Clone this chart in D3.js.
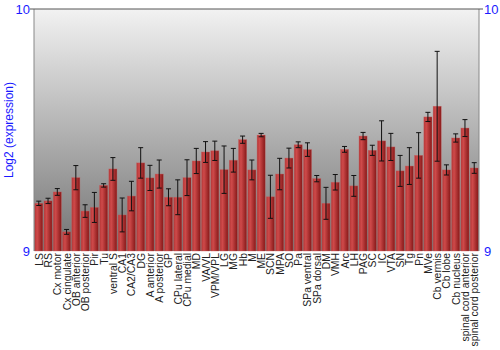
<!DOCTYPE html>
<html>
<head>
<meta charset="utf-8">
<script src="https://cdn.jsdelivr.net/npm/d3@7"></script>
<style>
  body { margin: 0; background: #fff; }
</style>
</head>
<body>
<div id="chart"></div>
<script>
const regions = ["LS", "RS", "Cx motor", "Cx cingulate", "OB anterior", "OB posterior", "Pir", "Tu",
  "ventral S", "CA1", "CA2/CA3", "DG", "A anterior", "A posterior", "GP", "CPu lateral", "CPu medial",
  "MD", "VA/VL", "VPM/VPL", "LG", "MG", "Hb", "M", "ME", "SCN", "MPA", "SO", "Pa", "SPa ventral",
  "SPa dorsal", "DM", "VMH", "Arc", "LH", "PAG", "SC", "IC", "VTA", "SN", "Tg", "Pn", "MVe",
  "Cb vermis", "Cb lobe", "Cb nucleus", "spinal cord anterior", "spinal cord posterior"]

const expression = [9.197, 9.207, 9.244, 9.079, 9.303, 9.165, 9.180, 9.271,
  9.339, 9.149, 9.227, 9.364, 9.302, 9.318, 9.222, 9.222, 9.303,
  9.372, 9.409, 9.414, 9.336, 9.375, 9.460, 9.335, 9.479, 9.224, 9.318, 9.384, 9.439, 9.419,
  9.299, 9.197, 9.284, 9.420, 9.269, 9.475, 9.416, 9.455, 9.430, 9.331, 9.351, 9.395, 9.554,
  9.598, 9.335, 9.467, 9.508, 9.343]

const errors = [0.009, 0.011, 0.014, 0.010, 0.050, 0.026, 0.062, 0.007,
  0.047, 0.070, 0.061, 0.063, 0.052, 0.058, 0.035, 0.072, 0.074,
  0.052, 0.043, 0.040, 0.098, 0.049, 0.015, 0.041, 0.007, 0.089, 0.065, 0.041, 0.012, 0.028,
  0.013, 0.066, 0.032, 0.012, 0.043, 0.015, 0.021, 0.083, 0.056, 0.064, 0.076, 0.094, 0.019,
  0.227, 0.021, 0.017, 0.035, 0.022]

const yTicks = [9, 10]

const data = regions.map((r, i) => ({ region: r, value: expression[i], err: errors[i] }))

const plotLeft = 34, plotRight = 479, plotTop = 9, plotBottom = 251
const blue = "#1a1aff"

const svg = d3.select("#chart")
  .append("svg")
    .attr("width", 500)
    .attr("height", 350)

const defs = svg.append("defs")

const bg = defs.append("linearGradient")
  .attr("id", "bg")
  .attr("x1", 0).attr("y1", 0).attr("x2", 0).attr("y2", 1)
bg.append("stop").attr("offset", "0%").attr("stop-color", "#f2f2f2")
bg.append("stop").attr("offset", "100%").attr("stop-color", "#737373")

const barGrad = defs.append("linearGradient")
  .attr("id", "bar")
  .attr("x1", 0).attr("y1", 0).attr("x2", 1).attr("y2", 0)
barGrad.append("stop").attr("offset", "0%").attr("stop-color", "#b43636")
barGrad.append("stop").attr("offset", "30%").attr("stop-color", "#cf4a4a")
barGrad.append("stop").attr("offset", "100%").attr("stop-color", "#861818")

const xScale = d3.scaleBand()
  .domain(regions)
  .range([plotLeft, plotRight])
  .paddingInner(0.13)
  .paddingOuter(0.08)

const yScale = d3.scaleLinear()
  .domain([9, 10])
  .range([plotBottom, plotTop])

// plot background
svg.append("rect")
  .attr("x", plotLeft)
  .attr("y", plotTop)
  .attr("width", plotRight - plotLeft)
  .attr("height", plotBottom - plotTop)
  .attr("fill", "url(#bg)")

// bars
const bar = svg.selectAll("g.bar")
  .data(data)
  .join("g")
    .attr("class", "bar")
    .attr("transform", d => `translate(${xScale(d.region)}, 0)`)

bar.append("rect")
  .attr("x", 0)
  .attr("y", d => yScale(d.value))
  .attr("width", xScale.bandwidth())
  .attr("height", d => plotBottom - yScale(d.value))
  .attr("fill", "url(#bar)")
  .attr("stroke", "#c85a5a")
  .attr("stroke-opacity", 0.6)
  .attr("stroke-width", 0.6)

// error bars
const cx = xScale.bandwidth() / 2
bar.append("line")
  .attr("x1", cx).attr("x2", cx)
  .attr("y1", d => yScale(d.value - d.err))
  .attr("y2", d => yScale(d.value + d.err))
  .attr("stroke", "#111")
  .attr("stroke-width", 1)

bar.selectAll("line.cap")
  .data(d => [d.value - d.err, d.value + d.err])
  .join("line")
    .attr("class", "cap")
    .attr("x1", cx - 2.5).attr("x2", cx + 2.5)
    .attr("y1", d => yScale(d)).attr("y2", d => yScale(d))
    .attr("stroke", "#111")
    .attr("stroke-width", 1)

// frame: left, right and top lines
svg.append("line")
  .attr("x1", plotLeft).attr("x2", plotLeft).attr("y1", plotTop).attr("y2", plotBottom)
  .attr("stroke", "#888")
svg.append("line")
  .attr("x1", plotRight).attr("x2", plotRight).attr("y1", plotTop).attr("y2", plotBottom)
  .attr("stroke", "#888")
svg.append("line")
  .attr("x1", plotLeft - 4).attr("x2", plotRight + 4).attr("y1", yScale(10)).attr("y2", yScale(10))
  .attr("stroke", "#555")

// y ticks on both sides
svg.selectAll("text.ytl")
  .data(yTicks)
  .join("text")
    .attr("class", "ytl")
    .attr("x", plotLeft - 4)
    .attr("y", d => yScale(d) + 5)
    .attr("text-anchor", "end")
    .attr("fill", blue)
    .style("font-family", "Liberation Sans, Arial, sans-serif")
    .style("font-size", "13px")
    .text(d => d)

svg.selectAll("text.ytr")
  .data(yTicks)
  .join("text")
    .attr("class", "ytr")
    .attr("x", plotRight + 5)
    .attr("y", d => yScale(d) + 5)
    .attr("fill", blue)
    .style("font-family", "Liberation Sans, Arial, sans-serif")
    .style("font-size", "13px")
    .text(d => d)

// y title
svg.append("text")
  .attr("transform", `translate(13, ${(plotTop + plotBottom) / 2}) rotate(-90)`)
  .attr("text-anchor", "middle")
  .attr("fill", blue)
  .style("font-family", "Liberation Sans, Arial, sans-serif")
  .style("font-size", "12px")
  .text("Log2 (expression)")

// x labels
svg.selectAll("text.xl")
  .data(regions)
  .join("text")
    .attr("class", "xl")
    .attr("transform", d => `translate(${xScale(d) + xScale.bandwidth() / 2 + 4}, ${plotBottom + 2}) rotate(-90)`)
    .attr("text-anchor", "end")
    .attr("fill", "#222")
    .style("font-family", "Liberation Sans, Arial, sans-serif")
    .style("font-size", "10.4px")
    .text(d => d)
</script>
</body>
</html>
